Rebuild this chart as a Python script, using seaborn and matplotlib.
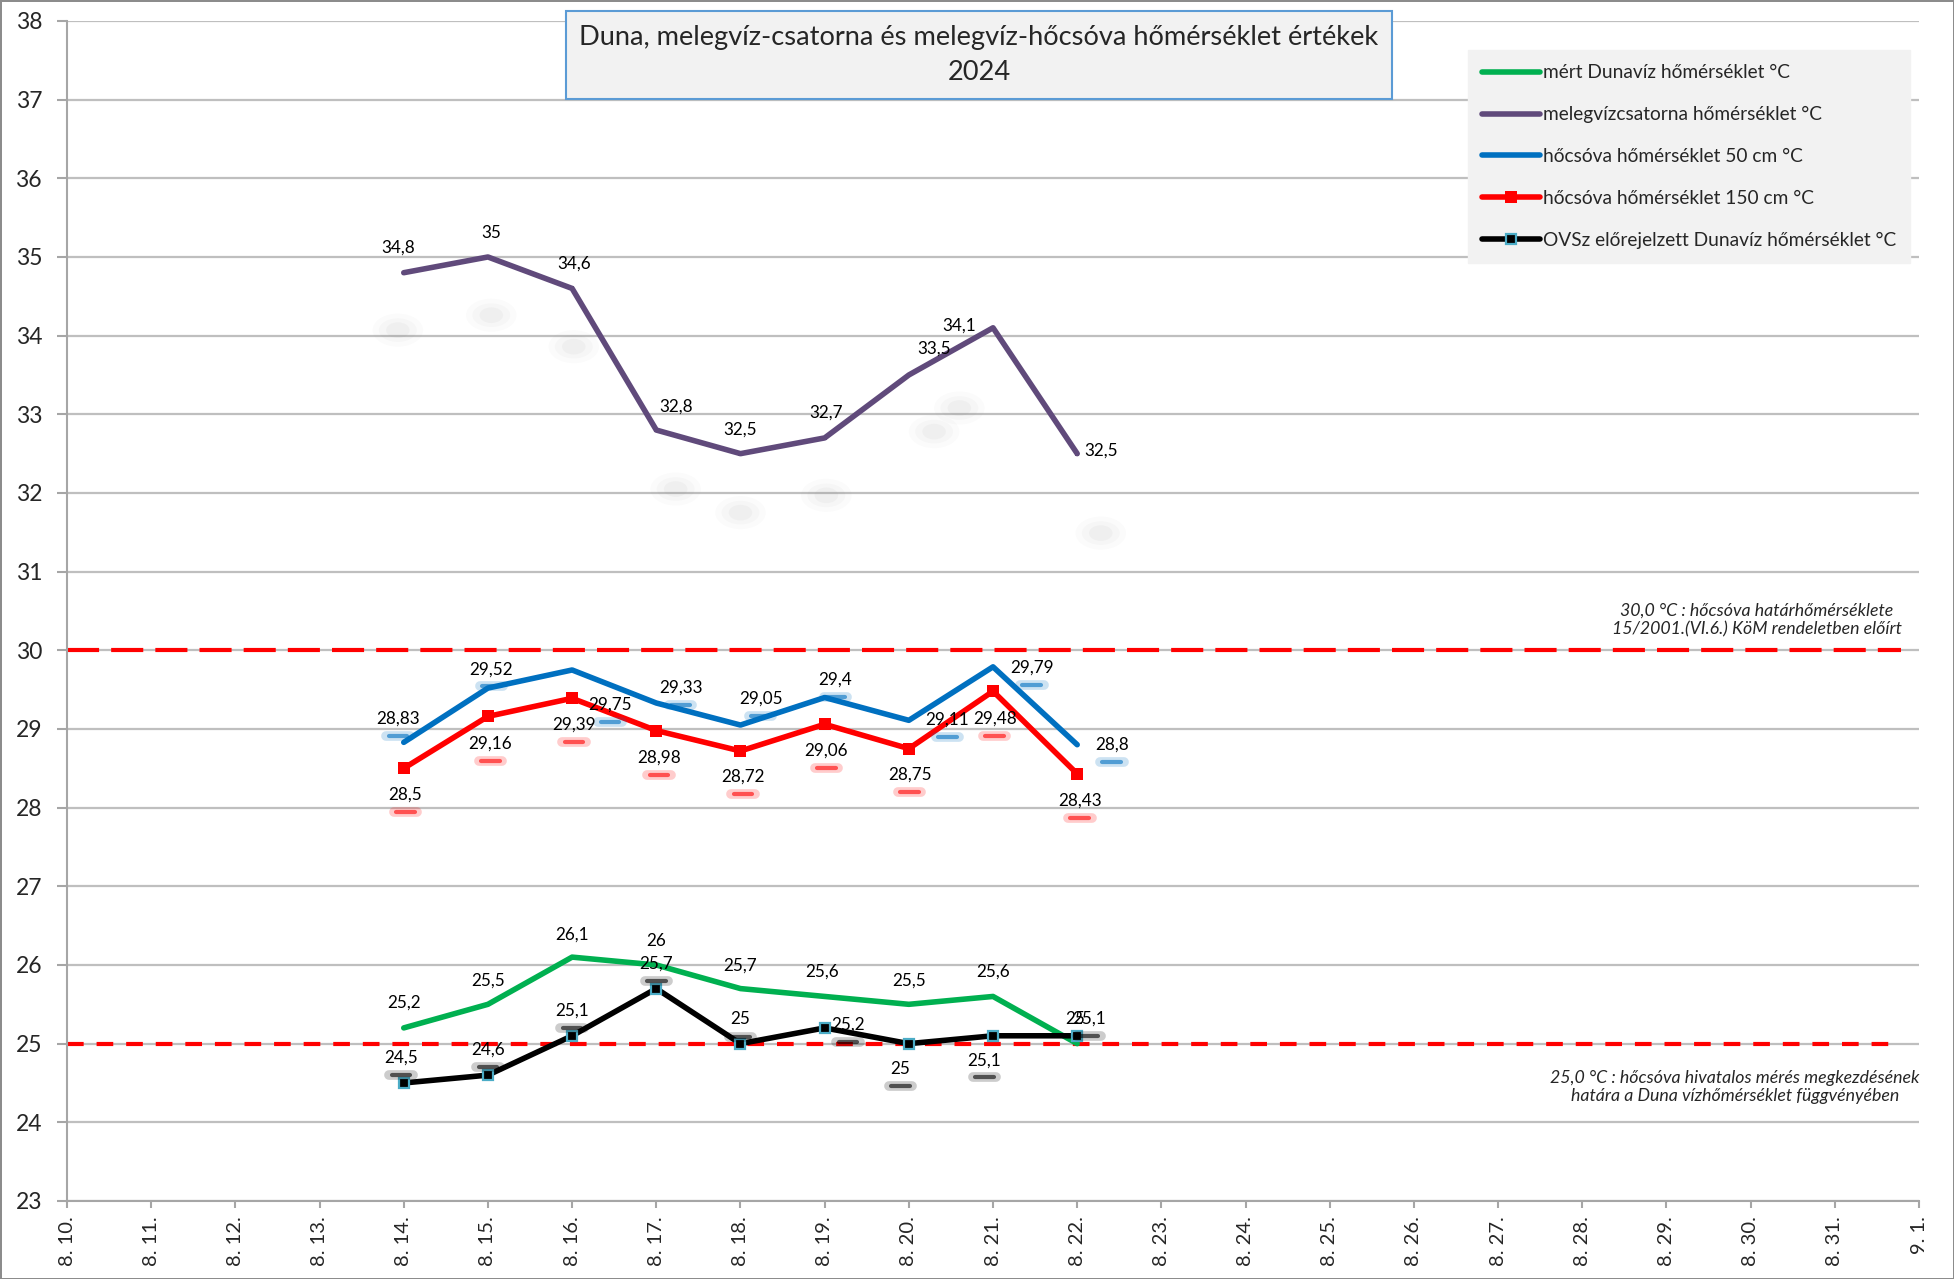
import pandas as pd
import matplotlib
matplotlib.use("Agg")
import matplotlib.pyplot as plt
import matplotlib.dates as mdates
from matplotlib.ticker import FuncFormatter
from matplotlib.patches import Ellipse
import seaborn as sns

# measured days (2024. 08. 14. - 08. 22.)
dates = pd.date_range("2024-08-14", "2024-08-22", freq="D")
duna = [25.2, 25.5, 26.1, 26.0, 25.7, 25.6, 25.5, 25.6, 25.0]
csatorna = [34.8, 35.0, 34.6, 32.8, 32.5, 32.7, 33.5, 34.1, 32.5]
hocsova_50 = [28.83, 29.52, 29.75, 29.33, 29.05, 29.40, 29.11, 29.79, 28.80]
hocsova_150 = [28.50, 29.16, 29.39, 28.98, 28.72, 29.06, 28.75, 29.48, 28.43]
ovsz = [24.5, 24.6, 25.1, 25.7, 25.0, 25.2, 25.0, 25.1, 25.1]

names = ["mért Dunavíz hőmérséklet °C",
         "melegvízcsatorna hőmérséklet °C",
         "hőcsóva hőmérséklet 50 cm °C",
         "hőcsóva hőmérséklet 150 cm °C",
         "OVSz előrejelzett Dunavíz hőmérséklet °C"]

limit_hi = 30.0
limit_lo = 25.0
note_hi = "30,0 °C : hőcsóva határhőmérséklete\n15/2001.(VI.6.) KöM rendeletben előírt"
note_lo = "25,0 °C : hőcsóva hivatalos mérés megkezdésének\nhatára a Duna vízhőmérséklet függvényében"
title = "Duna, melegvíz-csatorna és melegvíz-hőcsóva hőmérséklet értékek\n2024"

# data label offsets (days, °C) - Excel placed them a bit randomly
off_duna = [(0, .32), (0, .30), (0, .29), (0, .30), (0, .29), (-.03, .31), (0, .30), (0, .31), (-.02, .31)]
off_csat = [(-.07, .32), (.04, .31), (.02, .31), (.23, .30), (0, .30), (.02, .32), (.3, .33), (-.4, .03), (.28, .04)]
off_50 = [(-.07, .30), (.04, .24), (.45, -.44), (.29, .19), (.24, .33), (.13, .23), (.46, .01), (.46, -.01), (.41, 0)]
off_150 = [(.02, -.33), (.03, -.35), (.02, -.34), (.03, -.34), (.03, -.33), (.02, -.34), (.01, -.33), (.02, -.35), (.03, -.34)]
off_ovsz = [(-.03, .32), (0, .32), (0, .32), (0, .32), (0, .31), (.28, .04), (-.1, -.32), (-.1, -.31), (.14, .22)]

sns.set_theme(style="white")
plt.rcParams["font.family"] = ["Lato", "DejaVu Sans"]

fig = plt.figure(figsize=(19.54, 12.79), dpi=100)
fig.patch.set_edgecolor("#8c8c8c")
fig.patch.set_linewidth(2)
ax = fig.add_axes([0.0343, 0.061, 0.9478, 0.9226])

ax.yaxis.grid(True, color="#BFBFBF", lw=1.6, zorder=0)
ax.set_axisbelow(True)

# limit lines
ax.axhline(limit_hi, xmax=0.99, color="#FF0000", lw=3, ls=(0, (7.7, 2.9)), zorder=1.5)
ax.axhline(limit_lo, xmax=0.99, color="#FF0000", lw=3, ls=(0, (4, 3.1)), zorder=1.5)

df = pd.DataFrame({"datum": dates, "duna": duna, "csat": csatorna,
                   "h50": hocsova_50, "h150": hocsova_150, "ovsz": ovsz})

styles = [
    ("duna", "#00B050", dict(marker="o", markersize=2, markeredgewidth=0, markerfacecolor="#00B050")),
    ("csat", "#604A7B", dict(marker="s", markersize=3.5, markeredgewidth=0, markerfacecolor="#604A7B")),
    ("h50", "#0070C0", dict(marker="o", markersize=2, markeredgewidth=0, markerfacecolor="#0070C0")),
    ("h150", "#FF0000", dict(marker="s", markersize=9, markeredgewidth=0, markerfacecolor="#FF0000")),
    ("ovsz", "#000000", dict(marker="s", markersize=7, markeredgewidth=1.6,
                             markerfacecolor="#000000", markeredgecolor="#4BACC6")),
]
for (col, color, mk), name in zip(styles, names):
    sns.lineplot(data=df, x="datum", y=col, color=color, lw=4, label=name, ax=ax, zorder=3, **mk)

# data labels
xs = mdates.date2num(dates)
label_sets = [(duna, off_duna, None), (csatorna, off_csat, "grey"),
              (hocsova_50, off_50, "#0070C0"), (hocsova_150, off_150, "#FF0000"),
              (ovsz, off_ovsz, "#000000")]
for vals, offs, shadow in label_sets:
    for x, v, (dx, dy) in zip(xs, vals, offs):
        lx, ly = x + dx, v + dy
        ax.text(lx, ly, f"{v:g}".replace(".", ","), ha="center", va="center",
                fontsize=12.3, color="black", zorder=5)
        if shadow == "grey":
            for w, h, a in [(0.6, 0.42, 0.03), (0.45, 0.3, 0.04), (0.28, 0.2, 0.05)]:
                ax.add_patch(Ellipse((lx, ly - 1.05), w, h, color="#808080", alpha=a, lw=0, zorder=1))
        elif shadow:
            ax.plot([lx - 0.14, lx + 0.14], [ly - 0.22, ly - 0.22], color=shadow, lw=7,
                    alpha=0.2, solid_capstyle="round", zorder=4)
            ax.plot([lx - 0.11, lx + 0.11], [ly - 0.22, ly - 0.22], color=shadow, lw=3,
                    alpha=0.6, solid_capstyle="round", zorder=4)

ax.text(0.9125, 30.38, note_hi, transform=ax.get_yaxis_transform(), ha="center", va="center",
        fontsize=12.8, style="italic", linespacing=1.2)
ax.text(0.9006, 24.45, note_lo, transform=ax.get_yaxis_transform(), ha="center", va="center",
        fontsize=12.8, style="italic", linespacing=1.2)

ax.set_xlim(pd.Timestamp("2024-08-10"), pd.Timestamp("2024-09-01"))
ax.set_ylim(23, 38)
ax.set_yticks(range(23, 39))
ax.xaxis.set_major_locator(mdates.DayLocator(interval=1))
ax.xaxis.set_major_formatter(FuncFormatter(
    lambda v, p: f"{mdates.num2date(v).month}. {mdates.num2date(v).day}."))
ax.tick_params(axis="x", rotation=90, labelsize=14.5, length=5, width=1.5, pad=6,
               color="#A6A6A6", bottom=True)
ax.tick_params(axis="y", labelsize=16.5, length=7, width=1.5, pad=11, color="#A6A6A6", left=True)
ax.set_xlabel("")
ax.set_ylabel("")
for s in ["top", "right"]:
    ax.spines[s].set_visible(False)
for s in ["left", "bottom"]:
    ax.spines[s].set_color("#A6A6A6")
    ax.spines[s].set_linewidth(1.5)

leg = ax.legend(loc="upper left", bbox_to_anchor=(0.7513, 0.961), bbox_transform=fig.transFigure,
                fontsize=13.8, handlelength=3.0, handletextpad=0.15, labelspacing=1.3,
                borderpad=0.75, borderaxespad=0, frameon=True, fancybox=False, framealpha=1)
leg.get_frame().set_facecolor("#F2F2F2")
leg.get_frame().set_edgecolor("#F2F2F2")

fig.text(0.501, 0.957, title, ha="center", va="center", fontsize=19.6, linespacing=1.5,
         bbox=dict(boxstyle="square,pad=0.5", facecolor="#F2F2F2", edgecolor="#5B9BD5", lw=1.5))

fig.savefig("out.png", dpi=100, edgecolor=fig.get_edgecolor())
